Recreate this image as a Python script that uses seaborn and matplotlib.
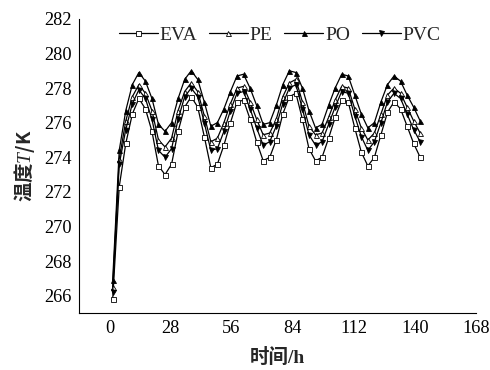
import matplotlib
matplotlib.use("Agg")
import matplotlib.pyplot as plt
import seaborn as sns
import numpy as np

# time in hours (sampled every 3 h)
time_h = [1.5, 4.5, 7.5, 10.5, 13.5, 16.5, 19.5, 22.5, 25.5, 28.5, 31.5, 34.5,
          37.5, 40.5, 43.5, 46.5, 49.5, 52.5, 55.5, 58.5, 61.5, 64.5, 67.5, 70.5,
          73.5, 76.5, 79.5, 82.5, 85.5, 88.5, 91.5, 94.5, 97.5, 100.5, 103.5, 106.5,
          109.5, 112.5, 115.5, 118.5, 121.5, 124.5, 127.5, 130.5, 133.5, 136.5, 139.5, 142.5]

eva = [265.8, 272.3, 274.8, 276.5, 277.4, 276.8, 275.5, 273.5, 273.0, 273.6, 275.5, 276.9,
       277.5, 276.9, 275.2, 273.4, 273.6, 274.7, 276.0, 277.2, 277.3, 276.2, 274.9, 273.8,
       274.0, 275.0, 276.5, 277.5, 277.7, 276.2, 274.5, 273.8, 274.0, 275.1, 276.3, 277.3,
       277.2, 275.7, 274.3, 273.5, 274.0, 275.3, 276.6, 277.2, 276.8, 275.8, 274.8, 274.0]

pe = [266.5, 273.9, 276.1, 277.5, 278.2, 277.7, 276.7, 275.0, 274.6, 275.1, 276.7, 277.8,
      278.3, 277.8, 276.4, 274.9, 275.1, 276.0, 277.1, 278.0, 278.1, 277.2, 276.2, 275.3,
      275.4, 276.2, 277.5, 278.3, 278.5, 277.2, 275.8, 275.3, 275.4, 276.3, 277.3, 278.1,
      278.0, 276.8, 275.7, 275.0, 275.4, 276.5, 277.6, 278.0, 277.7, 276.9, 276.1, 275.4]

po = [266.9, 274.4, 276.7, 278.2, 278.9, 278.4, 277.4, 275.9, 275.5, 276.0, 277.4, 278.5,
      279.0, 278.5, 277.2, 275.8, 276.0, 276.8, 277.8, 278.7, 278.8, 278.0, 277.0, 275.9,
      276.0, 277.0, 278.2, 279.0, 278.9, 278.0, 276.7, 275.7, 275.9, 277.0, 278.0, 278.8,
      278.7, 277.6, 276.5, 275.7, 276.0, 277.2, 278.2, 278.7, 278.4, 277.6, 276.9, 276.1]

pvc = [266.2, 273.6, 275.6, 277.1, 277.9, 277.4, 276.2, 274.4, 274.0, 274.5, 276.2, 277.5,
       278.0, 277.5, 276.0, 274.4, 274.5, 275.5, 276.7, 277.7, 277.8, 276.8, 275.7, 274.7,
       274.9, 275.8, 277.1, 278.0, 278.2, 276.8, 275.3, 274.7, 274.9, 275.9, 276.9, 277.8,
       277.7, 276.4, 275.2, 274.4, 274.9, 276.0, 277.2, 277.7, 277.4, 276.5, 275.6, 274.9]

series_names = ["EVA", "PE", "PO", "PVC"]
x_ticks = [0, 28, 56, 84, 112, 140, 168]
y_ticks = [266, 268, 270, 272, 274, 276, 278, 280, 282]

sns.set_theme(style="white")
plt.rcParams["font.family"] = ["Liberation Serif", "Noto Sans CJK SC", "DejaVu Sans"]
plt.rcParams["mathtext.fontset"] = "custom"
plt.rcParams["mathtext.it"] = "Liberation Serif:italic"
plt.rcParams["mathtext.rm"] = "Liberation Serif"

fig = plt.figure(figsize=(4.9, 3.7), dpi=100)
ax = fig.add_axes([0.161, 0.154, 0.810, 0.795])

styles = {
    "EVA": dict(marker="s", markerfacecolor="white"),
    "PE": dict(marker="^", markerfacecolor="white"),
    "PO": dict(marker="^", markerfacecolor="black"),
    "PVC": dict(marker="v", markerfacecolor="black"),
}
data = {"EVA": eva, "PE": pe, "PO": po, "PVC": pvc}

for name in series_names:
    sns.lineplot(x=time_h, y=data[name], ax=ax, color="black", linewidth=0.9,
                 markersize=3.6, markeredgecolor="black", markeredgewidth=0.6,
                 label=name, **styles[name])

ax.set_xlim(-14, 168)
ax.set_ylim(265, 282)
ax.set_xticks(x_ticks)
ax.set_yticks(y_ticks)
ax.tick_params(direction="in", length=4, width=0.8, labelsize=13.2, colors="black",
               pad=5)
for s in ["top", "right"]:
    ax.spines[s].set_visible(False)
for s in ["left", "bottom"]:
    ax.spines[s].set_color("black")
    ax.spines[s].set_linewidth(0.8)

ax.set_xlabel("时间/h", fontsize=14, fontweight="bold",
              family=["Liberation Serif", "Noto Sans CJK SC"], labelpad=8)
ax.set_ylabel("温度$\\it{T}$/K", fontsize=14, fontweight="bold",
              family=["Noto Sans CJK SC"], labelpad=5)

leg = ax.legend(loc="center", bbox_to_anchor=(0.506, 0.946), ncol=4, frameon=False,
                fontsize=14, handlelength=2.0, handletextpad=0.1, columnspacing=0.6,
                borderaxespad=0)

fig.savefig("out.png", dpi=100)
